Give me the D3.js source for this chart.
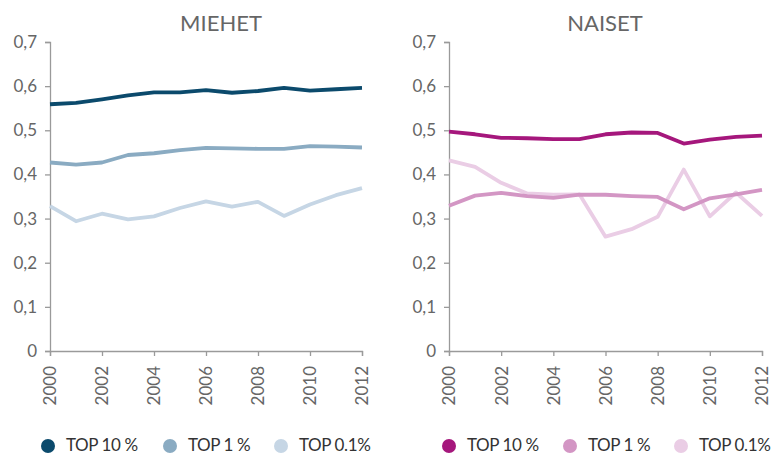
<!DOCTYPE html>
<html>
<head>
<meta charset="utf-8">
<script src="https://cdn.jsdelivr.net/npm/d3@7"></script>
<style>
  body { margin: 0; background: #fff; }
  text { font-family: Lato, "Open Sans", sans-serif; }
</style>
</head>
<body>
<div id="plot"></div>
<script>
// chart data
const years = d3.range(2000, 2013);
const yTicks = [0, 0.1, 0.2, 0.3, 0.4, 0.5, 0.6, 0.7];
const seriesNames = ["TOP 10 %", "TOP 1 %", "TOP 0.1%"];

const menTop10 = [0.559, 0.562, 0.570, 0.579, 0.586, 0.586, 0.591, 0.585, 0.589, 0.596, 0.590, 0.593, 0.596];
const menTop1 = [0.427, 0.422, 0.427, 0.444, 0.448, 0.455, 0.460, 0.459, 0.458, 0.458, 0.464, 0.463, 0.461];
const menTop01 = [0.328, 0.294, 0.311, 0.298, 0.305, 0.324, 0.339, 0.327, 0.338, 0.306, 0.332, 0.353, 0.369];

const womenTop10 = [0.497, 0.491, 0.483, 0.482, 0.480, 0.480, 0.491, 0.495, 0.494, 0.470, 0.479, 0.485, 0.488];
const womenTop1 = [0.329, 0.352, 0.358, 0.351, 0.347, 0.354, 0.354, 0.351, 0.349, 0.321, 0.346, 0.355, 0.365];
const womenTop01 = [0.432, 0.417, 0.381, 0.357, 0.354, 0.355, 0.259, 0.276, 0.304, 0.411, 0.305, 0.359, 0.306];

const width = 772, height = 454;

const svg = d3.select("#plot").append("svg")
    .attr("width", width)
    .attr("height", height);

const panels = [
  { title: "MIEHET", titleX: 221, left: 50, right: 362, series: [menTop10, menTop1, menTop01],
    colors: ["#0b4a6c", "#8aabc2", "#c6d6e5"], legendX: [48, 170, 281] },
  { title: "NAISET", titleX: 605, left: 449, right: 762, series: [womenTop10, womenTop1, womenTop01],
    colors: ["#a5177c", "#d396c4", "#eacde5"], legendX: [449, 570, 681] }
];

const plotTop = 42, plotBottom = 351;

panels.forEach(p => {
  const x = d3.scaleLinear().domain([2000, 2012]).range([p.left, p.right]);
  const y = d3.scaleLinear().domain([0, 0.7]).range([plotBottom, plotTop]);
  const g = svg.append("g");

  // y axis
  const yAxis = g.append("g")
      .attr("transform", `translate(${p.left},0)`)
      .call(d3.axisLeft(y).tickValues(yTicks).tickSize(5).tickPadding(8)
        .tickFormat(d => d === 0 ? "0" : d3.format(".1f")(d).replace(".", ",")));

  // x axis
  const xAxis = g.append("g")
      .attr("transform", `translate(0,${plotBottom})`)
      .call(d3.axisBottom(x).tickValues(d3.range(2000, 2013, 2)).tickSize(5).tickFormat(d3.format("d")));

  [yAxis, xAxis].forEach(a => {
    a.select(".domain").attr("stroke", "#9a9a9a").attr("stroke-width", 1.3);
    a.selectAll(".tick line").attr("stroke", "#9a9a9a").attr("stroke-width", 1.3);
    a.selectAll(".tick text").attr("fill", "#666")
        .style("font-size", "17px");
  });

  xAxis.selectAll(".tick text")
      .attr("transform", "rotate(-90)")
      .attr("x", -15).attr("y", 0).attr("dy", "0.35em")
      .style("text-anchor", "end");

  // title
  g.append("text")
      .attr("x", p.titleX)
      .attr("y", 31)
      .attr("text-anchor", "middle")
      .attr("fill", "#666")
      .style("font-size", "22px")
      .text(p.title);

  const line = d3.line().x((d, i) => x(years[i])).y(d => y(d));

  // draw lightest first so dark line sits on top
  [2, 1, 0].forEach(k => {
    g.append("path")
        .datum(p.series[k])
        .attr("fill", "none")
        .attr("stroke", p.colors[k])
        .attr("stroke-width", 3.8)
        .attr("stroke-linejoin", "round")
        .attr("d", line);
  });

  // legend
  seriesNames.forEach((name, k) => {
    g.append("circle")
        .attr("cx", p.legendX[k])
        .attr("cy", 446)
        .attr("r", 7)
        .attr("fill", p.colors[k]);
    g.append("text")
        .attr("x", p.legendX[k] + 18)
        .attr("y", 451)
        .attr("fill", "#333")
        .style("font-size", "17px")
        .style("letter-spacing", "-0.4px")
        .text(name);
  });
});
</script>
</body>
</html>
